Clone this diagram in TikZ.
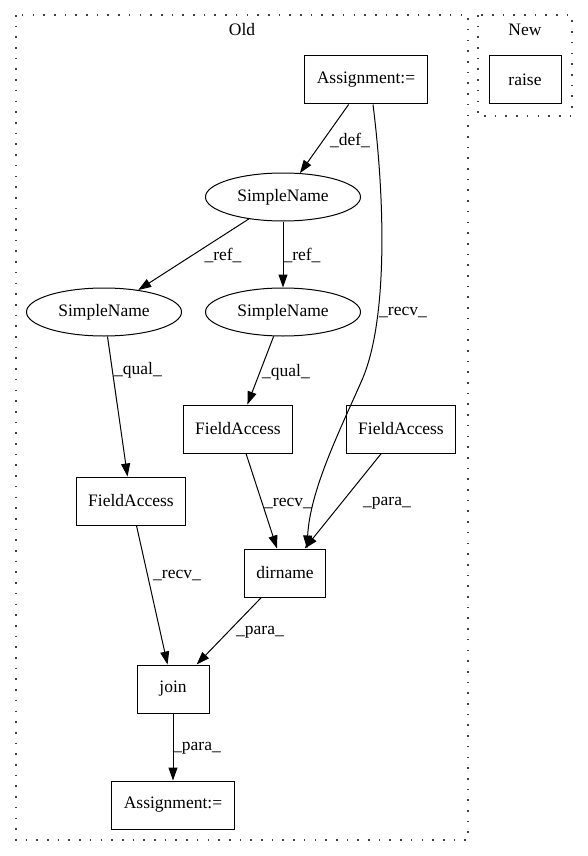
\documentclass[tikz,border=0pt]{standalone}
\usepackage{fontspec}
\setmainfont{Liberation Serif}
\usetikzlibrary{arrows.meta, shapes.geometric}

\begin{document}
\begin{tikzpicture}[x=1pt, y=-1pt,
	font=\fontsize{17.5}{20}\selectfont,
	box/.style={draw, line width=1pt, rectangle, minimum height=48pt, minimum width=72pt, inner xsep=12pt},
	oval/.style={draw, line width=1pt, ellipse, minimum width=155pt, minimum height=48pt, inner sep=0pt},
	cluster/.style={draw, black!75, line width=1.6pt, dash pattern=on 1.6pt off 9.1pt},
	edge/.style={line width=1pt, -{Triangle[length=13pt, width=9pt]}},
	elabel/.style={inner sep=0pt}]
	\useasboundingbox (0,0) rectangle (588,856);
	
	% Clusters
	\draw[cluster] (16,15) rectangle (468,840);
	\node at (242,30) {Old};
	\draw[cluster] (478,15) rectangle (572,116);
	\node at (525,30) {New};
	
	% Nodes
	\node[box] (raise) at (525,80) {raise};
	\node[box] (asgtop) at (366,80) {Assignment:=};
	\node[oval] (sntop) at (283,197) {SimpleName};
	\node[oval] (snleft) at (104,312) {SimpleName};
	\node[oval] (snright) at (283,312) {SimpleName};
	\node[box] (famid) at (238,429) {FieldAccess};
	\node[box] (faright) at (401,429) {FieldAccess};
	\node[box] (faleft) at (131,501) {FieldAccess};
	\node[box] (dirn) at (285,573) {dirname};
	\node[box] (join) at (173,689) {join};
	\node[box] (asgbot) at (173,805) {Assignment:=};
	
	% Edges
	\draw[edge] (asgtop) -- (sntop);
	\node[elabel] at (350,140) {\_def\_};
	\draw[edge] ([xshift=7pt]asgtop.south) .. controls (385,200) and (388,320) .. (362,380)
		.. controls (340,430) and (310,490) .. ([xshift=22pt]dirn.north);
	\node[elabel] at (403,313) {\_recv\_};
	\draw[edge] (sntop) -- (snleft);
	\node[elabel] at (223,255) {\_ref\_};
	\draw[edge] (sntop) -- (snright);
	\node[elabel] at (302,255) {\_ref\_};
	\draw[edge] (snright) -- (famid);
	\node[elabel] at (286,372) {\_qual\_};
	\draw[edge] (snleft) -- (faleft);
	\node[elabel] at (138,370) {\_qual\_};
	\draw[edge] (famid) -- (dirn);
	\node[elabel] at (288,503) {\_recv\_};
	\draw[edge] (faright) -- (dirn);
	\node[elabel] at (387,503) {\_para\_};
	\draw[edge] (faleft) -- (join);
	\node[elabel] at (177,575) {\_recv\_};
	\draw[edge] (dirn) -- (join);
	\node[elabel] at (260,632) {\_para\_};
	\draw[edge] (join) -- (asgbot);
	\node[elabel] at (197,748) {\_para\_};
\end{tikzpicture}
\end{document}
